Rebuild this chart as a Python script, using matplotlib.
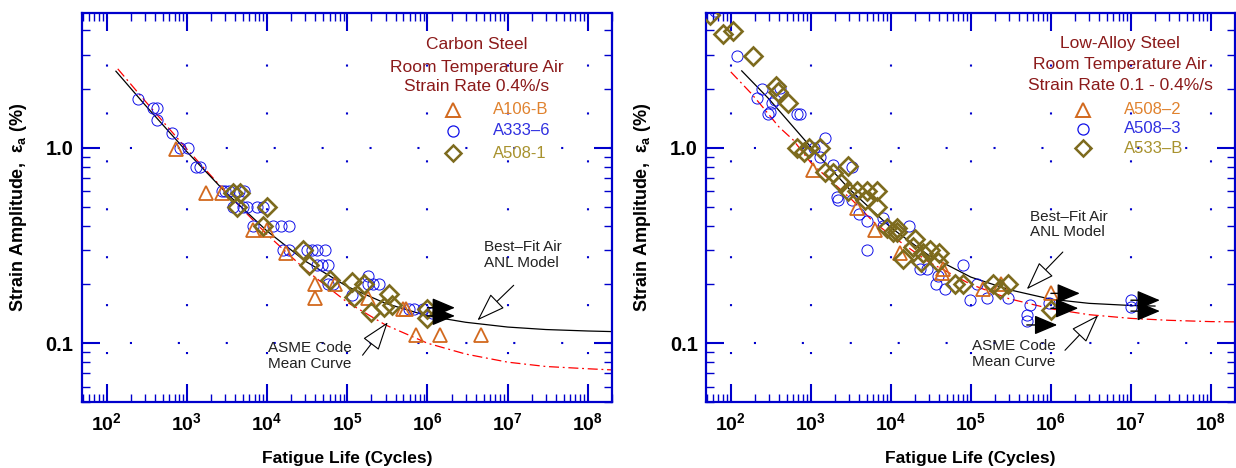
"""
Strain-life (fatigue) data for carbon and low-alloy steels in room temperature air
Two log-log panels: test data, ANL best-fit model and ASME code mean curve
"""

import numpy as np
import matplotlib
matplotlib.use('Agg')
import matplotlib.pyplot as plt
from matplotlib.ticker import FixedLocator, NullFormatter

plt.rcParams['font.family'] = ['Liberation Sans', 'DejaVu Sans']
plt.rcParams['mathtext.fontset'] = 'custom'
plt.rcParams['mathtext.rm'] = 'Liberation Sans'
plt.rcParams['mathtext.bf'] = 'Liberation Sans:bold'
plt.rcParams['mathtext.default'] = 'regular'

# ---------------- Carbon steel (left panel) ----------------
# A106-B (triangles)
cs_a106_N = [730, 1730, 2700, 6700, 1.0e4, 1.7e4, 3.9e4, 3.9e4, 7.1e4, 1.8e5,
             5.0e5, 5.4e5, 7.1e5, 1.45e6, 4.6e6]
cs_a106_e = [0.99, 0.59, 0.59, 0.38, 0.38, 0.29, 0.20, 0.17, 0.20, 0.17,
             0.15, 0.15, 0.11, 0.11, 0.11]
# A333-6 (circles)
cs_a333_N = [245, 376, 420, 420, 650, 820, 1030, 1300, 1450, 2700, 3000, 3300,
             4500, 5200, 3800, 5000, 5600, 7500, 8900, 6700, 1.2e4, 1.5e4,
             1.9e4, 1.6e4, 1.9e4, 3.1e4, 3.6e4, 4.2e4, 5.3e4, 4.2e4, 4.9e4,
             5.8e4, 5.8e4, 6.7e4, 1.15e5, 1.8e5, 1.8e5, 2.1e5, 2.5e5, 5.8e5,
             6.8e5, 8.8e5, 1.15e6]
cs_a333_e = [1.78, 1.60, 1.60, 1.39, 1.19, 1.0, 1.0, 0.80, 0.80, 0.60, 0.60, 0.60,
             0.60, 0.60, 0.50, 0.50, 0.50, 0.50, 0.50, 0.40, 0.40, 0.40,
             0.40, 0.30, 0.30, 0.30, 0.30, 0.30, 0.30, 0.25, 0.25,
             0.25, 0.20, 0.20, 0.176, 0.22, 0.20, 0.20, 0.20, 0.15,
             0.15, 0.15, 0.142]
# A508-1 (diamonds)
cs_a508_N = [3800, 4600, 4200, 1.0e4, 9000, 2.8e4, 3.3e4, 6.0e4, 1.15e5, 1.2e5,
             1.6e5, 1.95e5, 2.9e5, 3.3e5, 3.6e5, 1.0e6, 1.0e6]
cs_a508_e = [0.59, 0.59, 0.50, 0.50, 0.40, 0.30, 0.25, 0.21, 0.205, 0.172,
             0.20, 0.144, 0.153, 0.178, 0.157, 0.15, 0.134]

# curves
cs_anl_N = [130, 300, 1000, 3000, 1e4, 3e4, 1e5, 3e5, 1e6, 3e6, 1e7, 3e7, 1e8, 2e8]
cs_anl_e = [2.47, 1.66, 0.955, 0.595, 0.375, 0.263, 0.195, 0.160, 0.138, 0.128,
            0.121, 0.1175, 0.1155, 0.1147]
cs_asme_N = [137, 300, 1000, 3000, 1e4, 3e4, 1e5, 3e5, 1e6, 3e6, 1e7, 3e7, 1e8, 2e8]
cs_asme_e = [2.54, 1.74, 0.985, 0.599, 0.360, 0.238, 0.162, 0.124, 0.100, 0.088,
             0.080, 0.076, 0.074, 0.073]

# run-outs (tail N, tip N, strain)
cs_run_N0 = [1.0e6, 1.0e6]
cs_run_N1 = [2.2e6, 2.2e6]
cs_run_e = [0.152, 0.138]

# ---------------- Low-alloy steel (right panel) ----------------
# A508-2 (triangles)
las_a5082_N = [1060, 3800, 6300, 1.3e4, 4.3e4, 4.5e4, 1.4e5, 2.4e5, 1.0e6]
las_a5082_e = [0.77, 0.49, 0.38, 0.29, 0.23, 0.24, 0.19, 0.20, 0.18]
# A508-3 (circles)
las_a5083_N = [63, 119, 210, 245, 290, 310, 325, 355, 410, 670, 730, 1100, 1300,
               1500, 1900, 2100, 2200, 3300, 3300, 4000, 5100, 5100, 7900, 8000,
               1.7e4, 2.3e4, 2.8e4, 3.7e4, 3.9e4, 4.7e4, 7.9e4, 9.8e4, 1.2e5,
               1.6e5, 2.9e5, 5.5e5, 5.0e5, 5.0e5, 9.5e5, 1.0e7, 1.0e7]
las_a5083_e = [5.0, 2.96, 1.8, 2.0, 1.5, 1.53, 1.7, 1.76, 2.03, 1.5, 1.5, 1.0, 0.9,
               1.13, 0.82, 0.56, 0.54, 0.8, 0.54, 0.46, 0.42, 0.30, 0.44, 0.40,
               0.40, 0.24, 0.24, 0.20, 0.22, 0.19, 0.25, 0.166, 0.20,
               0.17, 0.17, 0.157, 0.14, 0.13, 0.16, 0.166, 0.153]
# A533-B (diamonds)
las_a533_N = [55, 79, 106, 188, 365, 385, 520, 670, 820, 940, 1300, 1500, 1900,
              2900, 2400, 2900, 3800, 4700, 5000, 6700, 6700, 8900, 1.05e4,
              1.2e4, 1.2e4, 1.4e4, 1.9e4, 2.0e4, 2.4e4, 2.5e4, 3.1e4, 3.9e4,
              4.0e4, 6.3e4, 7.9e4, 1.9e5, 2.3e5, 2.9e5, 1.0e6]
las_a533_e = [4.8, 3.84, 3.98, 2.96, 2.08, 1.94, 1.70, 1.0, 0.95, 1.0, 1.0, 0.75, 0.74,
              0.81, 0.66, 0.60, 0.60, 0.54, 0.60, 0.60, 0.50, 0.39, 0.37,
              0.39, 0.37, 0.27, 0.31, 0.34, 0.26, 0.29, 0.30, 0.26,
              0.29, 0.20, 0.20, 0.20, 0.19, 0.20, 0.148]

las_anl_N = [137, 300, 1000, 3000, 1e4, 3e4, 1e5, 3e5, 1e6, 3e6, 1e7, 2e7]
las_anl_e = [2.48, 1.78, 1.01, 0.618, 0.391, 0.281, 0.218, 0.188, 0.168, 0.160,
             0.156, 0.155]
las_asme_N = [100, 180, 250, 400, 600, 1000, 3300, 6000, 1e4, 3e4, 1e5, 3e5, 1e6,
              3e6, 1e7, 3e7, 1e8, 2e8]
las_asme_e = [2.45, 1.90, 1.62, 1.28, 1.10, 0.84, 0.54, 0.42, 0.357, 0.26, 0.20,
              0.169, 0.150, 0.140, 0.134, 0.131, 0.129, 0.1286]

las_run_N0 = [1.0e6, 1.0e6, 5.0e5, 1.0e7, 1.0e7]
las_run_N1 = [2.3e6, 2.2e6, 1.2e6, 2.3e7, 2.3e7]
las_run_e = [0.180, 0.151, 0.124, 0.166, 0.146]

# colours
BLUE_AX = '#0000CC'
C_TRI = '#D2691E'
C_CIRC = '#1010E8'
C_DIA = '#7D6B1E'
C_TITLE = '#8B1A1A'

fig = plt.figure(figsize=(12.36, 4.68), dpi=100)
ax1 = fig.add_axes([0.0663, 0.141, 0.4288, 0.831])
ax2 = fig.add_axes([0.5712, 0.141, 0.4280, 0.831])


def style_axes(ax):
    ax.set_xscale('log')
    ax.set_yscale('log')
    ax.set_xlim(49, 2e8)
    ax.set_ylim(0.05, 4.9)
    for sp in ax.spines.values():
        sp.set_color(BLUE_AX)
        sp.set_linewidth(1.6)
    ax.xaxis.set_major_locator(FixedLocator([1e2, 1e3, 1e4, 1e5, 1e6, 1e7, 1e8]))
    ax.set_xticklabels([r'$10^{%d}$' % k for k in range(2, 9)])
    ax.yaxis.set_major_locator(FixedLocator([0.1, 1.0]))
    ax.set_yticklabels(['0.1', '1.0'])
    ax.xaxis.set_minor_formatter(NullFormatter())
    ax.yaxis.set_minor_formatter(NullFormatter())
    ax.tick_params(which='major', direction='in', length=13, width=1.5,
                   color=BLUE_AX, top=True, right=True)
    ax.tick_params(which='minor', direction='in', length=6, width=1.0,
                   color=BLUE_AX, top=True, right=True)
    ax.tick_params(axis='x', which='major', pad=7, labelsize=14)
    ax.tick_params(axis='y', which='major', pad=6, labelsize=14.5)
    for lab in ax.get_xticklabels() + ax.get_yticklabels():
        lab.set_fontweight('bold')
    ax.grid(which='major', color=BLUE_AX, linestyle=(0, (1, 22)), linewidth=1.5)
    ax.set_axisbelow(True)
    ax.set_xlabel('Fatigue Life (Cycles)', fontsize=12.5, fontweight='bold')
    ax.set_ylabel('Strain Amplitude,  $ε_a$ (%)', fontsize=13, fontweight='bold')
    ax.xaxis.set_label_coords(0.5, -0.125)
    ax.yaxis.set_label_coords(-0.10, 0.5)


def draw_panel(ax, tri, circ, dia, anl, asme, runs):
    ax.plot(asme[0], asme[1], color='red', lw=0.9, linestyle=(0, (8, 3, 1.5, 3)), zorder=2)
    ax.plot(anl[0], anl[1], color='black', lw=0.9, zorder=2)
    ax.plot(circ[0], circ[1], 'o', ms=8, mfc='none', mec=C_CIRC, mew=0.7, zorder=3)
    ax.plot(tri[0], tri[1], '^', ms=10, mfc='none', mec=C_TRI, mew=1.3, zorder=4)
    ax.plot(dia[0], dia[1], 'D', ms=9, mfc='none', mec=C_DIA, mew=1.9, zorder=5)
    for n0, n1, e in zip(*runs):
        ax.annotate('', xy=(n1, e), xytext=(n0, e),
                    arrowprops=dict(arrowstyle='-|>,head_length=0.95,head_width=0.4',
                                    color='black', lw=1.0, mutation_scale=15,
                                    shrinkA=0, shrinkB=0), zorder=6)


def hollow_note(ax, text, txt_xy, start, tip):
    ax.text(txt_xy[0], txt_xy[1], text, fontsize=11, ha='left', va='center',
            linespacing=1.15, color='#222222')
    ax.annotate('', xy=tip, xytext=start,
                arrowprops=dict(arrowstyle='-|>,head_length=1.3,head_width=0.45',
                                fc='white', ec='black', lw=0.8, mutation_scale=14,
                                shrinkA=0, shrinkB=0))


def legend_block(ax, title_lines, names, x_title, y_title, x_mark, x_text, y_rows):
    for line, y in zip(title_lines, y_title):
        ax.text(x_title, y, line, transform=ax.transAxes, ha='center', va='center',
                fontsize=12.5, color=C_TITLE)
    marks = [('^', C_TRI, 10, 1.4, '#E0822E'), ('o', C_CIRC, 8, 0.9, '#3030E0'),
             ('D', C_DIA, 8, 1.8, '#A8922E')]
    for (m, mc, ms, mew, tc), name, y in zip(marks, names, y_rows):
        ax.plot([x_mark], [y], m, transform=ax.transAxes, ms=ms, mfc='none', mec=mc,
                mew=mew, clip_on=False)
        ax.text(x_text, y, name, transform=ax.transAxes, ha='left', va='center',
                fontsize=12, color=tc)


# Left panel - carbon steel
style_axes(ax1)
draw_panel(ax1, (cs_a106_N, cs_a106_e), (cs_a333_N, cs_a333_e), (cs_a508_N, cs_a508_e),
           (cs_anl_N, cs_anl_e), (cs_asme_N, cs_asme_e), (cs_run_N0, cs_run_N1, cs_run_e))
hollow_note(ax1, 'Best\u2013Fit Air\nANL Model', (5.0e6, 0.283), (1.19e7, 0.198), (4.2e6, 0.131))
hollow_note(ax1, 'ASME Code\nMean Curve', (1.03e4, 0.0858), (1.55e5, 0.0868), (3.2e5, 0.128))
legend_block(ax1, ['Carbon Steel', 'Room Temperature Air', 'Strain Rate 0.4%/s'],
             ['A106-B', 'A333\u20136', 'A508-1'],
             0.745, [0.918, 0.861, 0.810], 0.700, 0.775, [0.751, 0.697, 0.640])

# Right panel - low-alloy steel
style_axes(ax2)
draw_panel(ax2, (las_a5082_N, las_a5082_e), (las_a5083_N, las_a5083_e), (las_a533_N, las_a533_e),
           (las_anl_N, las_anl_e), (las_asme_N, las_asme_e), (las_run_N0, las_run_N1, las_run_e))
hollow_note(ax2, 'Best\u2013Fit Air\nANL Model', (5.5e5, 0.405), (1.41e6, 0.293), (5.0e5, 0.189))
hollow_note(ax2, 'ASME Code\nMean Curve', (1.03e5, 0.0879), (1.5e6, 0.092), (3.9e6, 0.139))
legend_block(ax2, ['Low-Alloy Steel', 'Room Temperature Air', 'Strain Rate 0.1 - 0.4%/s'],
             ['A508\u20132', 'A508\u20133', 'A533\u2013B'],
             0.783, [0.923, 0.869, 0.815], 0.713, 0.790, [0.751, 0.702, 0.653])

fig.savefig('out.png', dpi=100)
